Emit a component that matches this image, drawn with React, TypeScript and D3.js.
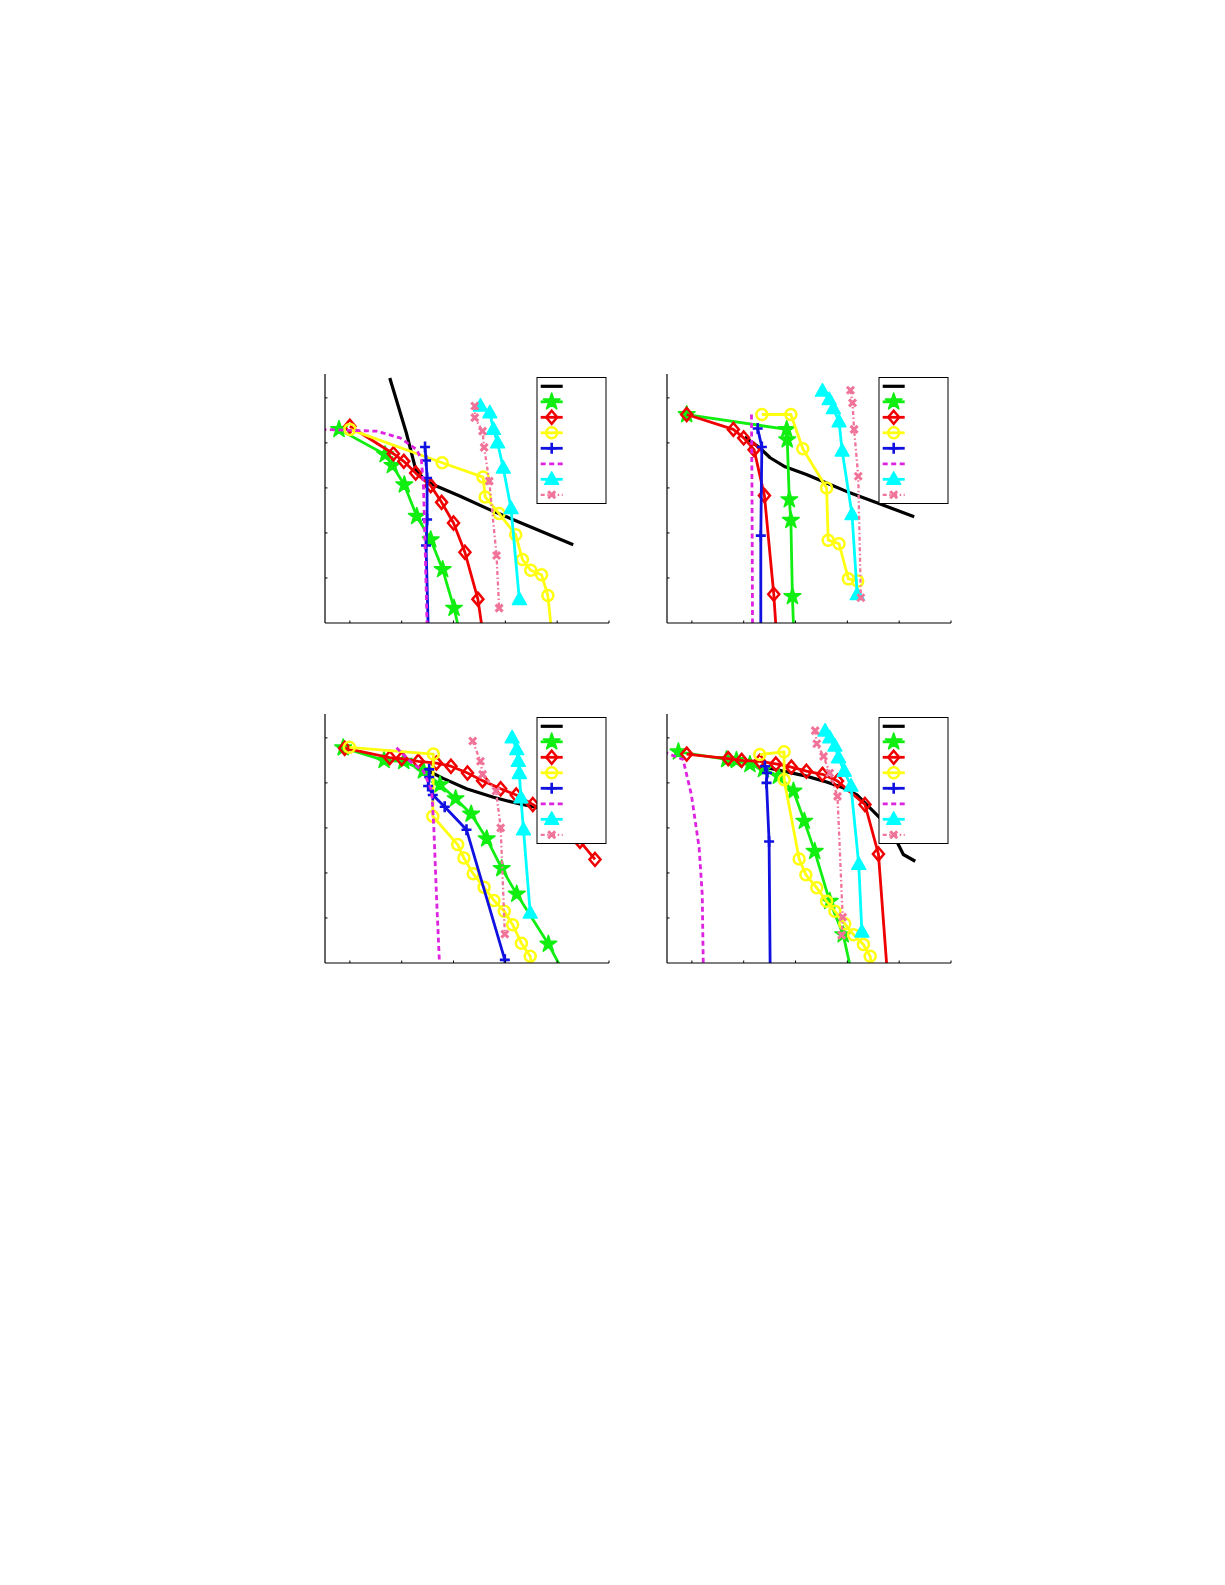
import React from 'react';
import * as d3 from 'd3';

type Pt = [number, number];

// ---------- Panel 1 ----------
const p1Black: Pt[] = [[0.77,5.44],[1.09,4.22],[1.27,3.41],[1.45,3.17],[1.61,3.07],[2.12,2.82],[2.77,2.48],[3.41,2.17],[4.31,1.74]];
const p1Green: Pt[] = [[-0.21,4.30],[0.68,3.74],[0.82,3.50],[1.05,3.07],[1.29,2.37],[1.56,1.85],[1.79,1.19],[2.01,0.33],[2.09,-0.07]];
const p1Red: Pt[] = [[0.00,4.37],[0.84,3.76],[1.04,3.59],[1.27,3.33],[1.56,3.05],[1.77,2.68],[2.00,2.22],[2.22,1.57],[2.47,0.53],[2.55,-0.10]];
const p1Yellow: Pt[] = [[0.00,4.30],[1.78,3.56],[2.57,3.24],[2.61,2.80],[2.88,2.43],[3.20,1.96],[3.33,1.41],[3.49,1.17],[3.70,1.07],[3.82,0.61],[3.88,-0.05]];
const p1Blue: Pt[] = [[1.45,3.91],[1.47,3.61],[1.49,3.22],[1.49,2.30],[1.47,1.72],[1.51,-0.05]];
const p1Magenta: Pt[] = [[-0.55,4.30],[0.52,4.26],[0.97,4.11],[1.29,3.85],[1.38,3.63],[1.42,3.04],[1.45,1.78],[1.49,-0.05]];
const p1Cyan: Pt[] = [[2.52,4.82],[2.70,4.67],[2.77,4.30],[2.85,4.00],[2.96,3.44],[3.11,2.54],[3.27,0.52]];
const p1Pink: Pt[] = [[2.41,4.82],[2.41,4.56],[2.56,4.26],[2.59,3.90],[2.69,3.15],[2.83,1.50],[2.88,0.33]];

// ---------- Panel 2 ----------
const p2Black: Pt[] = [[1.02,4.13],[1.31,3.89],[1.51,3.67],[1.80,3.47],[2.21,3.30],[2.60,3.11],[3.05,2.89],[3.57,2.67],[4.29,2.36]];
const p2Green: Pt[] = [[-0.10,4.63],[1.83,4.30],[1.84,4.07],[1.88,2.74],[1.91,2.28],[1.94,0.59],[1.96,-0.05]];
const p2Red: Pt[] = [[-0.10,4.63],[0.80,4.30],[1.00,4.11],[1.20,3.85],[1.40,2.83],[1.58,0.64],[1.62,-0.05]];
const p2Yellow: Pt[] = [[1.35,4.63],[1.91,4.63],[2.14,3.87],[2.60,3.00],[2.63,1.84],[2.84,1.76],[3.02,0.98],[3.20,0.93]];
const p2Blue: Pt[] = [[1.27,4.32],[1.35,3.91],[1.33,1.94],[1.33,-0.05]];
const p2Magenta: Pt[] = [[1.15,4.63],[1.16,3.00],[1.17,-0.05]];
const p2Cyan: Pt[] = [[2.52,5.15],[2.65,4.96],[2.73,4.76],[2.84,4.47],[2.90,3.82],[3.09,2.41],[3.19,0.63]];
const p2Pink: Pt[] = [[3.06,5.17],[3.10,4.89],[3.13,4.30],[3.21,3.26],[3.26,0.56]];

// ---------- Panel 3 ----------
const p3Black: Pt[] = [[1.42,4.32],[1.80,4.10],[2.25,3.87],[2.77,3.68],[3.28,3.53],[3.73,3.43],[4.25,3.30]];
const p3Green: Pt[] = [[-0.13,4.78],[0.66,4.50],[1.04,4.48],[1.42,4.27],[1.74,3.96],[2.04,3.65],[2.34,3.31],[2.64,2.76],[2.93,2.10],[3.22,1.53],[3.83,0.42],[4.05,-0.05]];
const p3Red: Pt[] = [[-0.10,4.77],[0.77,4.56],[1.00,4.54],[1.32,4.48],[1.67,4.44],[1.95,4.37],[2.27,4.22],[2.56,4.05],[2.91,3.87],[3.21,3.73],[3.53,3.52],[3.86,3.30],[4.15,3.05],[4.44,2.70],[4.73,2.30]];
const p3Yellow: Pt[] = [[-0.01,4.79],[1.61,4.64],[1.60,3.26],[2.08,2.63],[2.20,2.33],[2.38,1.98],[2.59,1.68],[2.78,1.39],[2.98,1.15],[3.14,0.85],[3.31,0.44],[3.48,0.15],[3.51,-0.05]];
const p3Blue: Pt[] = [[1.53,4.30],[1.53,4.13],[1.51,3.93],[1.60,3.73],[1.83,3.47],[2.25,2.96],[2.99,0.07]];
const p3Magenta: Pt[] = [[0.90,4.78],[1.16,4.48],[1.42,4.26],[1.58,3.82],[1.62,3.00],[1.67,1.52],[1.73,-0.05]];
const p3Cyan: Pt[] = [[3.13,5.00],[3.22,4.74],[3.25,4.48],[3.27,4.21],[3.30,3.67],[3.35,2.96],[3.48,1.11]];
const p3Pink: Pt[] = [[2.37,4.93],[2.52,4.48],[2.56,4.19],[2.82,3.82],[2.91,3.00],[2.99,0.64]];

// ---------- Panel 4 ----------
const p4Black: Pt[] = [[1.31,4.37],[1.76,4.26],[2.21,4.15],[2.60,4.02],[2.92,3.89],[3.18,3.74],[3.44,3.44],[3.69,3.15],[3.89,2.85],[4.08,2.41],[4.31,2.26]];
const p4Green: Pt[] = [[-0.26,4.69],[0.67,4.52],[0.86,4.50],[1.12,4.41],[1.38,4.30],[1.67,4.15],[1.96,3.82],[2.17,3.15],[2.37,2.48],[2.66,1.37],[2.92,0.63],[3.05,-0.05]];
const p4Red: Pt[] = [[-0.10,4.64],[0.70,4.54],[0.96,4.50],[1.31,4.48],[1.62,4.42],[1.92,4.35],[2.21,4.26],[2.52,4.19],[2.81,4.04],[3.34,3.52],[3.60,2.42],[3.76,-0.05]];
const p4Yellow: Pt[] = [[1.31,4.63],[1.78,4.69],[1.78,4.07],[2.07,2.31],[2.20,1.96],[2.41,1.67],[2.60,1.37],[2.76,1.15],[2.95,0.87],[3.12,0.63],[3.31,0.41],[3.44,0.15],[3.47,-0.05]];
const p4Blue: Pt[] = [[1.41,4.37],[1.45,4.22],[1.44,4.00],[1.49,2.70],[1.51,-0.05]];
const p4Magenta: Pt[] = [[-0.55,4.69],[-0.17,4.52],[-0.01,3.74],[0.14,2.56],[0.20,1.52],[0.22,-0.05]];
const p4Cyan: Pt[] = [[2.57,5.15],[2.66,5.00],[2.76,4.82],[2.83,4.56],[2.94,4.26],[3.07,3.93],[3.22,2.19],[3.28,0.69]];
const p4Pink: Pt[] = [[2.38,5.16],[2.41,4.87],[2.54,4.59],[2.66,4.22],[2.81,3.70],[2.91,1.02],[2.89,0.62]];

const PANELS: Pt[][][] = [
  [p1Black, p1Green, p1Red, p1Yellow, p1Blue, p1Magenta, p1Cyan, p1Pink],
  [p2Black, p2Green, p2Red, p2Yellow, p2Blue, p2Magenta, p2Cyan, p2Pink],
  [p3Black, p3Green, p3Red, p3Yellow, p3Blue, p3Magenta, p3Cyan, p3Pink],
  [p4Black, p4Green, p4Red, p4Yellow, p4Blue, p4Magenta, p4Cyan, p4Pink],
];

const X_DOMAIN: [number, number] = [-0.48, 5];
const Y_DOMAIN: [number, number] = [0, 5.53];
const X_TICKS = [0, 1, 2, 3, 4, 5];
const Y_TICKS = [1, 2, 3, 4, 5];

// ---------- Layout / style ----------
const PANEL_POS: [number, number][] = [[325, 374], [667, 374], [325, 714], [667, 714]];
const PW = 284;
const PH = 249;

type Marker = 'none' | 'star' | 'diamond' | 'circle' | 'plus' | 'triangle' | 'x';
interface Style { color: string; width: number; dash?: string; marker: Marker; }
const STYLES: Style[] = [
  { color: '#000000', width: 3.2, marker: 'none' },
  { color: '#11ee11', width: 2.8, marker: 'star' },
  { color: '#f00000', width: 2.8, marker: 'diamond' },
  { color: '#ffff10', width: 2.8, marker: 'circle' },
  { color: '#1010e0', width: 2.8, marker: 'plus' },
  { color: '#dd22e0', width: 2.8, dash: '5,3.5', marker: 'none' },
  { color: '#00ffff', width: 2.8, marker: 'triangle' },
  { color: '#f07499', width: 2.3, dash: '4,2.5,1.5,2.5', marker: 'x' },
];

const starPath = d3.symbol().type(d3.symbolStar).size(85)() as string;

function MarkerShape({ m, x, y, color }: { m: Marker; x: number; y: number; color: string }) {
  const t = `translate(${x},${y})`;
  switch (m) {
    case 'star':
      return <path d={starPath} transform={t} fill={color} stroke={color} strokeWidth={1.6} strokeLinejoin="round" />;
    case 'diamond':
      return <path d="M0,-6.5L5.5,0L0,6.5L-5.5,0Z" transform={t} fill="none" stroke={color} strokeWidth={2.5} />;
    case 'circle':
      return <circle cx={x} cy={y} r={5.5} fill="none" stroke={color} strokeWidth={2.5} />;
    case 'plus':
      return <path d="M-5,0H5M0,-5.5V5.5" transform={t} fill="none" stroke={color} strokeWidth={2.6} />;
    case 'triangle':
      return <path d="M0,-7.5L7,5L-7,5Z" transform={t} fill={color} stroke={color} strokeWidth={1.4} strokeLinejoin="round" />;
    case 'x':
      return <path d="M-3.5,-3.5L3.5,3.5M-3.5,3.5L3.5,-3.5" transform={t} fill="none" stroke={color} strokeWidth={3} />;
    default:
      return null;
  }
}

function Panel({ idx }: { idx: number }) {
  const [left, top] = PANEL_POS[idx];
  const x = d3.scaleLinear().domain(X_DOMAIN).range([0, PW]);
  const y = d3.scaleLinear().domain(Y_DOMAIN).range([PH, 0]);
  const line = d3.line<Pt>().x(d => x(d[0])).y(d => y(d[1]));
  const clipId = `clip${idx}`;
  const series = PANELS[idx];
  const legX0 = 212, legY0 = 3.5, legW = 69, legH = 126;
  return (
    <g transform={`translate(${left},${top})`}>
      <defs>
        <clipPath id={clipId}><rect x={0} y={0} width={PW} height={PH} /></clipPath>
      </defs>
      <g clipPath={`url(#${clipId})`}>
        {series.map((data, si) => {
          const st = STYLES[si];
          return (
            <g key={si}>
              <path d={line(data) || ''} fill="none" stroke={st.color} strokeWidth={st.width}
                strokeDasharray={st.dash} strokeLinejoin="round" />
              {st.marker !== 'none' && data
                .filter(d => d[1] >= 0 && d[0] >= X_DOMAIN[0])
                .map((d, i) => <MarkerShape key={i} m={st.marker} x={x(d[0])} y={y(d[1])} color={st.color} />)}
            </g>
          );
        })}
      </g>
      {/* axes */}
      <line x1={0} y1={0} x2={0} y2={PH} stroke="#000" strokeWidth={1.2} />
      <line x1={0} y1={PH} x2={PW} y2={PH} stroke="#000" strokeWidth={1.2} />
      {X_TICKS.map(t => (
        <line key={'xt' + t} x1={x(t)} x2={x(t)} y1={PH} y2={PH - 2.5} stroke="#000" strokeWidth={1} />
      ))}
      {Y_TICKS.map(t => (
        <line key={'yt' + t} x1={0} x2={2.5} y1={y(t)} y2={y(t)} stroke="#000" strokeWidth={1} />
      ))}
      {/* legend */}
      <rect x={legX0} y={legY0} width={legW} height={legH} fill="#fff" stroke="#000" strokeWidth={1} />
      {STYLES.map((st, i) => {
        const ly = legY0 + 8.8 + i * 15.5;
        const lx1 = legX0 + 3.7, lx2 = legX0 + 25.7;
        return (
          <g key={'lg' + i}>
            <line x1={lx1} x2={lx2} y1={ly} y2={ly} stroke={st.color} strokeWidth={st.width}
              strokeDasharray={st.dash} />
            {st.marker !== 'none' && <MarkerShape m={st.marker} x={(lx1 + lx2) / 2} y={ly} color={st.color} />}
          </g>
        );
      })}
    </g>
  );
}

export default function App() {
  return (
    <svg width={1225} height={1585} style={{ position: 'absolute', left: 0, top: 0, background: '#fff' }}>
      <rect x={0} y={0} width={1225} height={1585} fill="#fff" />
      {[0, 1, 2, 3].map(i => <Panel key={i} idx={i} />)}
    </svg>
  );
}
